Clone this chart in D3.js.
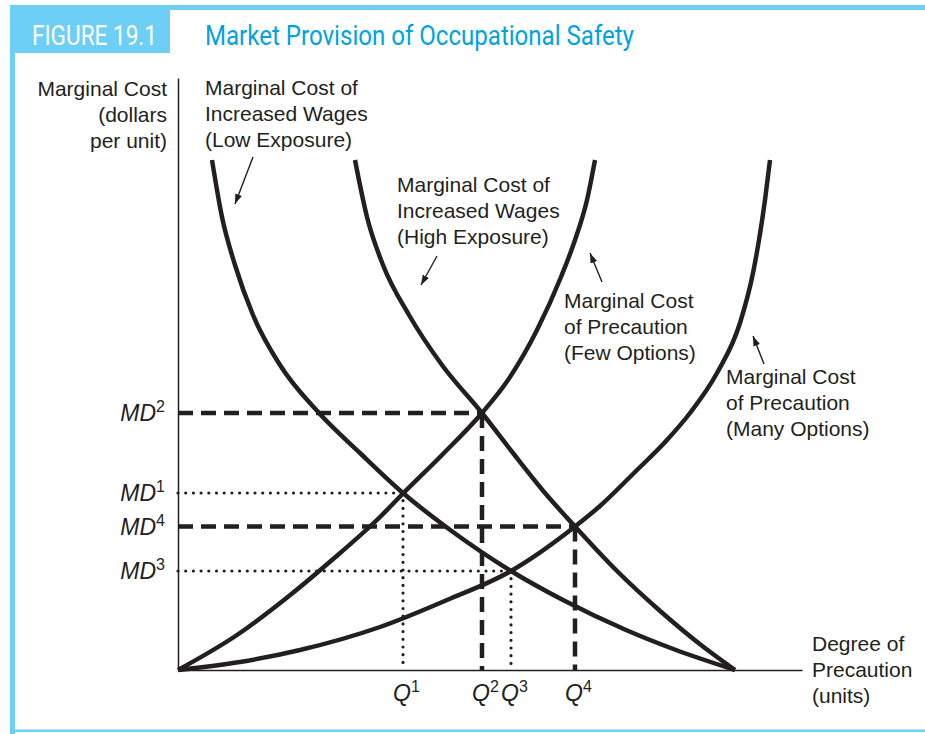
<!DOCTYPE html>
<html>
<head>
<meta charset="utf-8">
<script src="https://cdn.jsdelivr.net/npm/d3@7"></script>
<style>
  body { margin: 0; background: #fff; }
  svg { display: block; font-family: "Liberation Sans", Arial, Helvetica, sans-serif; }
</style>
</head>
<body>
<svg id="chart"></svg>
<script>
// curves, as [degree of precaution, marginal cost]
const wagesLowExposure = [[6.8,102],[8.8,90.6],[11.4,81],[15,71],[20.4,61],[28.2,51.4],[36.4,43.4],[45,35.4],[55,27.6],[66.6,19.8],[77,14],[89.6,8],[99.6,4],[111.4,0]];
const wagesHighExposure = [[35.4,102],[37.8,90.6],[41,81],[46.2,71],[52.8,61],[60.8,51.4],[67,43.4],[73.4,35.4],[79.4,28.7],[87.6,20],[96.2,12],[104.6,5],[111.4,0]];
const precautionFew = [[0,0],[11.8,7],[21.2,14],[30.8,22],[40.4,30.6],[45,35.3],[52.8,43],[60.8,51.4],[66,58],[71.8,68],[76.6,78.6],[79.4,86],[81.8,94],[83.4,102]];
const precautionMany = [[0,0],[12.4,1.6],[24.4,4],[40.4,8.6],[53.8,14],[66.6,19.8],[79.4,28.7],[84.4,32.8],[91.4,39.6],[97.8,46],[102.4,51.4],[107.8,59.4],[112.4,69.4],[115,79.4],[116.2,86],[117.4,94],[118.4,102]];

// equilibria 1..4
const eqNames = ["1", "2", "3", "4"];
const eqQ = [45, 60.8, 66.6, 79.4];
const eqMD = [35.4, 51.4, 19.8, 28.7];
const eqExposure = ["low", "high", "low", "high"];

const yLabelLines = ["Marginal Cost", "(dollars", "per unit)"];
const xLabelLines = ["Degree of", "Precaution", "(units)"];
const lowLabel = ["Marginal Cost of", "Increased Wages", "(Low Exposure)"];
const highLabel = ["Marginal Cost of", "Increased Wages", "(High Exposure)"];
const fewLabel = ["Marginal Cost", "of Precaution", "(Few Options)"];
const manyLabel = ["Marginal Cost", "of Precaution", "(Many Options)"];

const width = 925;
const height = 734;
const ink = "#231f20";
const lightBlue = "#6dcff6";

let svg = d3.select("#chart")
  .attr("width", width)
  .attr("height", height);

// frame
svg.append("rect").attr("x", 10).attr("y", 5).attr("width", 915).attr("height", 5).attr("fill", lightBlue);
svg.append("rect").attr("x", 10).attr("y", 5).attr("width", 160).attr("height", 48).attr("fill", lightBlue);
svg.append("rect").attr("x", 10).attr("y", 5).attr("width", 5).attr("height", 729).attr("fill", lightBlue);
svg.append("rect").attr("x", 10).attr("y", 729.5).attr("width", 915).attr("height", 2.5).attr("fill", lightBlue);

svg.append("text")
  .attr("x", 32).attr("y", 45)
  .attr("textLength", 125).attr("lengthAdjust", "spacingAndGlyphs")
  .style("font-family", "Roboto, 'Liberation Sans', sans-serif")
  .style("font-size", "27px")
  .style("fill", "#fff")
  .text("FIGURE 19.1");

svg.append("text")
  .attr("x", 205).attr("y", 45)
  .attr("textLength", 429).attr("lengthAdjust", "spacingAndGlyphs")
  .style("font-family", "Roboto, 'Liberation Sans', sans-serif")
  .style("font-size", "27px")
  .style("fill", "#00a3e0")
  .text("Market Provision of Occupational Safety");

// scales
const x = d3.scaleLinear().domain([0, 124.8]).range([178, 802]);
const y = d3.scaleLinear().domain([0, 118.4]).range([670, 78]);

// axes: bare lines
svg.append("g")
  .attr("transform", `translate(${x(0)},0)`)
  .call(d3.axisLeft(y).tickValues([]).tickSizeOuter(0))
  .select(".domain").attr("stroke", ink).attr("stroke-width", 1.5);

svg.append("g")
  .attr("transform", `translate(0,${y(0)})`)
  .call(d3.axisBottom(x).tickValues([]).tickSizeOuter(0))
  .select(".domain").attr("stroke", ink).attr("stroke-width", 1.5);

// reference lines to each equilibrium
const refs = svg.append("g");
eqQ.forEach((q, i) => {
  const dotted = eqExposure[i] === "low";
  const g = refs.append("g")
    .attr("fill", "none")
    .attr("stroke", ink)
    .attr("stroke-width", dotted ? 3.2 : 4.5)
    .attr("stroke-dasharray", dotted ? "0,7.7" : "15,8")
    .attr("stroke-linecap", dotted ? "round" : "butt");
  g.append("line")
    .attr("x1", x(0)).attr("y1", y(eqMD[i]))
    .attr("x2", x(q)).attr("y2", y(eqMD[i]));
  g.append("line")
    .attr("x1", x(q)).attr("y1", y(eqMD[i]))
    .attr("x2", x(q)).attr("y2", y(0));
});

// curves
const line = d3.line()
  .x(d => x(d[0]))
  .y(d => y(d[1]))
  .curve(d3.curveMonotoneX);

[wagesLowExposure, wagesHighExposure, precautionFew, precautionMany].forEach(pts => {
  svg.append("path")
    .attr("d", line(pts))
    .attr("fill", "none")
    .attr("stroke", ink)
    .attr("stroke-width", 4.5)
    .attr("stroke-linecap", "butt");
});

// MD and Q labels
eqMD.forEach((md, i) => {
  const t = svg.append("text")
    .attr("x", 165).attr("y", y(md) + 8)
    .attr("text-anchor", "end")
    .style("font-size", "23px")
    .style("font-style", "italic")
    .style("fill", ink);
  t.append("tspan").text("MD");
  t.append("tspan").attr("dy", -9).style("font-size", "16px").style("font-style", "normal").text(eqNames[i]);
});

eqQ.forEach((q, i) => {
  const t = svg.append("text")
    .attr("x", x(q) - 10).attr("y", 701)
    .style("font-size", "23px")
    .style("font-style", "italic")
    .style("fill", ink);
  t.append("tspan").text("Q");
  t.append("tspan").attr("dy", -9).style("font-size", "16px").style("font-style", "normal").text(eqNames[i]);
});

// text blocks
function block(lines, px, py, anchor) {
  const t = svg.append("text")
    .attr("text-anchor", anchor || "start")
    .style("font-size", "21px")
    .style("fill", ink);
  lines.forEach((s, i) => {
    t.append("tspan").attr("x", px).attr("y", py + i * 26).text(s);
  });
}
block(yLabelLines, 167, 96, "end");
block(lowLabel, 205, 95);
block(highLabel, 397, 192);
block(fewLabel, 564, 308);
block(manyLabel, 726, 384);
block(xLabelLines, 812, 651);

// arrows
svg.append("defs").append("marker")
  .attr("id", "head")
  .attr("markerUnits", "userSpaceOnUse")
  .attr("markerWidth", 11).attr("markerHeight", 8)
  .attr("refX", 10).attr("refY", 3.5)
  .attr("orient", "auto")
  .append("path")
  .attr("d", "M0,0 L10,3.5 L0,7 Z")
  .attr("fill", ink);

const arrows = [[253,157,235,204],[437,256,421,285],[602,282,590,253],[764,364,753,336]];
arrows.forEach(a => {
  svg.append("line")
    .attr("x1", a[0]).attr("y1", a[1])
    .attr("x2", a[2]).attr("y2", a[3])
    .attr("stroke", ink)
    .attr("stroke-width", 1.4)
    .attr("marker-end", "url(#head)");
});
</script>
</body>
</html>
